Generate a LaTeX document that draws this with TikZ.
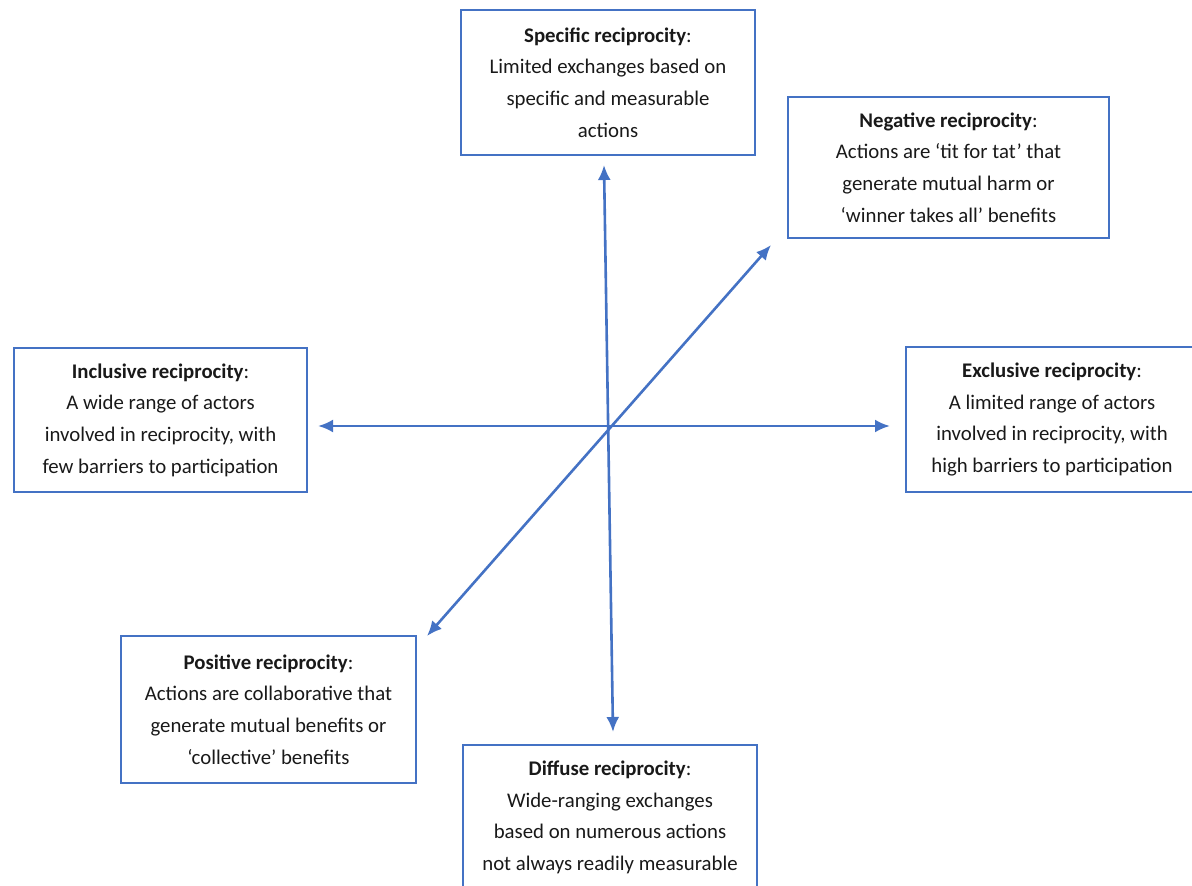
\documentclass[tikz,border=0pt]{standalone}
\usepackage{fontspec}
\setmainfont{Carlito}
\usetikzlibrary{arrows.meta}
\definecolor{axisblue}{HTML}{4472C4}
\begin{document}
\begin{tikzpicture}[x=1pt,y=-1pt,
  boxnode/.style={draw=axisblue, line width=1.2pt, inner sep=0pt, align=center,
    font=\fontsize{20.8}{31.6}\selectfont, text=black!90},
  axisarrow/.style={draw=axisblue, line width=2.6pt,
    {Latex[length=15pt,width=13pt]}-{Latex[length=15pt,width=13pt]}}]
\useasboundingbox (0,0) rectangle (1192,886);
\node[boxnode, minimum width=294pt, minimum height=145pt] (spec) at (608,82.5)
  {\textbf{Specific reciprocity}:\\Limited exchanges based on\\specific and measurable\\actions};
\node[boxnode, minimum width=321pt, minimum height=141pt] (neg) at (948.5,167.5)
  {\textbf{Negative reciprocity}:\\Actions are ‘tit for tat’ that\\generate mutual harm or\\‘winner takes all’ benefits};
\node[boxnode, minimum width=293pt, minimum height=144pt] (incl) at (160.5,420)
  {\textbf{Inclusive reciprocity}:\\A wide range of actors\\involved in reciprocity, with\\few barriers to participation};
\node[boxnode, minimum width=292pt, minimum height=145pt] (excl) at (1052,419.5)
  {\textbf{Exclusive reciprocity}:\\A limited range of actors\\involved in reciprocity, with\\high barriers to participation};
\node[boxnode, minimum width=295pt, minimum height=147pt] (pos) at (268.5,709.5)
  {\textbf{Positive reciprocity}:\\Actions are collaborative that\\generate mutual benefits or\\‘collective’ benefits};
\node[boxnode, minimum width=294pt, minimum height=145pt] (diff) at (610,817.5)
  {\textbf{Diffuse reciprocity}:\\Wide-ranging exchanges\\based on numerous actions\\not always readily measurable};
\coordinate (vtop) at (604,165);
\coordinate (vbot) at (613,732);
\coordinate (hleft) at (318,426);
\coordinate (hright) at (890,426);
\coordinate (dne) at (771,245);
\coordinate (dsw) at (427,636);
\draw[axisarrow] (vbot) -- (vtop);
\draw[axisarrow] (hleft) -- (hright);
\draw[axisarrow] (dsw) -- (dne);
\end{tikzpicture}
\end{document}
